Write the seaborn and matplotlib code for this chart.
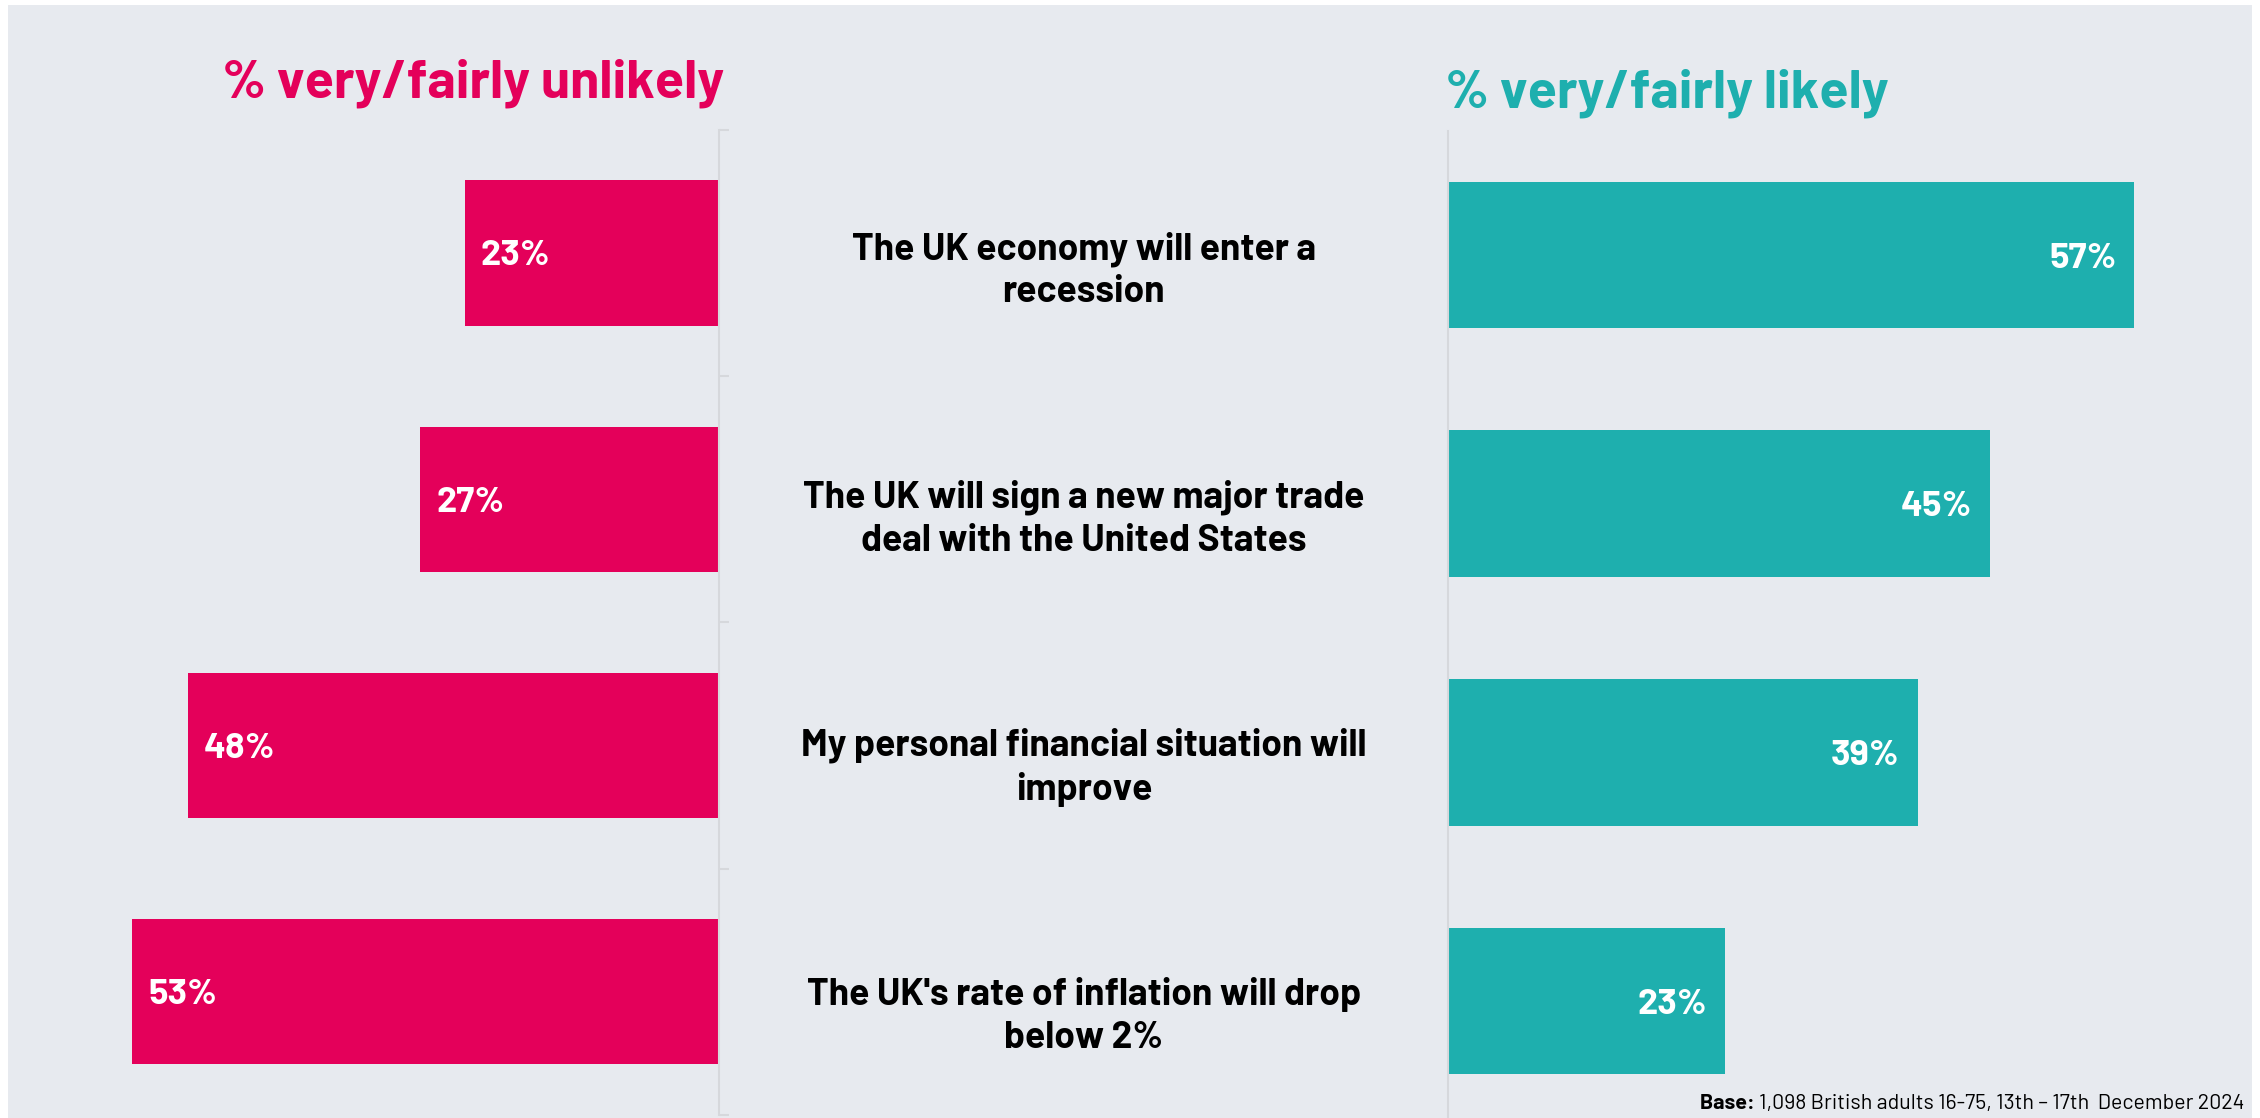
import numpy as np
import matplotlib
matplotlib.use("Agg")
import matplotlib.pyplot as plt
import matplotlib.transforms as mtransforms
from matplotlib import font_manager
from matplotlib.patches import Rectangle
import seaborn as sns

# data
statements = [
    "The UK economy will enter a\nrecession",
    "The UK will sign a new major trade\ndeal with the United States",
    "My personal financial situation will\nimprove",
    "The UK's rate of inflation will drop\nbelow 2%",
]
unlikely = [23, 27, 48, 53]
likely = [57, 45, 39, 23]

pink = "#E4005A"
teal = "#1EAFAE"
bg = "#E7EAEF"
spine_col = "#D6D8DC"

# a narrow-ish font if one is around
installed = {f.name for f in font_manager.fontManager.ttflist}
for cand in ["Barlow", "Roboto Condensed", "Liberation Sans Narrow", "Lato", "Roboto"]:
    if cand in installed:
        main_font = cand
        break
else:
    main_font = "DejaVu Sans"

sns.set_style("white")
plt.rcParams["font.family"] = [main_font, "DejaVu Sans"]

fig = plt.figure(figsize=(22.6, 11.18), dpi=100)
fig.patch.set_facecolor("white")
fig.add_artist(Rectangle((0.0035, 0), 0.993, 0.9955, transform=fig.transFigure,
                         facecolor=bg, edgecolor="none", zorder=-10))

ax_l = fig.add_axes([0.0243, 0.0027, 0.2939, 0.8813])
ax_r = fig.add_axes([0.6408, -0.0066, 0.3196, 0.8897])

sns.barplot(x=unlikely, y=statements, orient="h", color=pink, width=0.59,
            saturation=1, linewidth=0, ax=ax_l)
sns.barplot(x=likely, y=statements, orient="h", color=teal, width=0.59,
            saturation=1, linewidth=0, ax=ax_r)

for ax in (ax_l, ax_r):
    ax.set_facecolor("none")
    ax.set_xlim(0, 60)
    ax.set_ylim(3.5, -0.5)
    ax.set_xlabel("")
    ax.set_ylabel("")
    ax.set_xticks([])
    ax.set_yticks(np.arange(len(statements) + 1) - 0.5)
    for s in ax.spines.values():
        s.set_visible(False)

ax_l.invert_xaxis()
ax_l.spines["right"].set_visible(True)
ax_l.spines["right"].set_color(spine_col)
ax_l.spines["right"].set_linewidth(1.5)
ax_l.yaxis.tick_right()
ax_l.tick_params(axis="y", direction="out", length=7, width=1.5, color=spine_col,
                 labelright=False, labelleft=False)

ax_r.spines["left"].set_visible(True)
ax_r.spines["left"].set_color(spine_col)
ax_r.spines["left"].set_linewidth(1.5)
ax_r.tick_params(axis="y", direction="in", length=7, width=1.5, color=spine_col,
                 labelleft=False, labelright=False)

# value labels
for i, v in enumerate(unlikely):
    ax_l.annotate(f"{v}%", xy=(v, i), xytext=(16, 0), textcoords="offset pixels",
                  ha="left", va="center_baseline", color="white", fontsize=26,
                  fontweight="bold")
for i, v in enumerate(likely):
    ax_r.annotate(f"{v}%", xy=(v, i), xytext=(-18, 0), textcoords="offset pixels",
                  ha="right", va="center_baseline", color="white", fontsize=26,
                  fontweight="bold")

# statements in the middle
trans = mtransforms.blended_transform_factory(fig.transFigure, ax_r.transData)
for i, s in enumerate(statements):
    ax_r.annotate(s, xy=(0.4796, i), xycoords=trans, xytext=(0, -15),
                  textcoords="offset pixels", ha="center", va="center",
                  multialignment="center", fontsize=26.8, fontweight="bold",
                  color="black", linespacing=1.3, annotation_clip=False)

# titles
fig.text(0.3203, 0.913, "% very/fairly unlikely", ha="right", va="baseline",
         color=pink, fontsize=38.5, fontweight="bold")
fig.text(0.6394, 0.904, "% very/fairly likely", ha="left", va="baseline",
         color=teal, fontsize=38.5, fontweight="bold")

# footnote
base = fig.text(0.993, 0.0045, "1,098 British adults 16-75, 13th \u2013 17th  December 2024",
                ha="right", va="bottom", fontsize=15.4, color="black")
ax_r.annotate("Base: ", xy=(0, 0), xycoords=base, ha="right", va="bottom",
              fontsize=15.4, fontweight="bold", color="black", annotation_clip=False)

fig.savefig("out.png", dpi=100, facecolor=fig.get_facecolor())
